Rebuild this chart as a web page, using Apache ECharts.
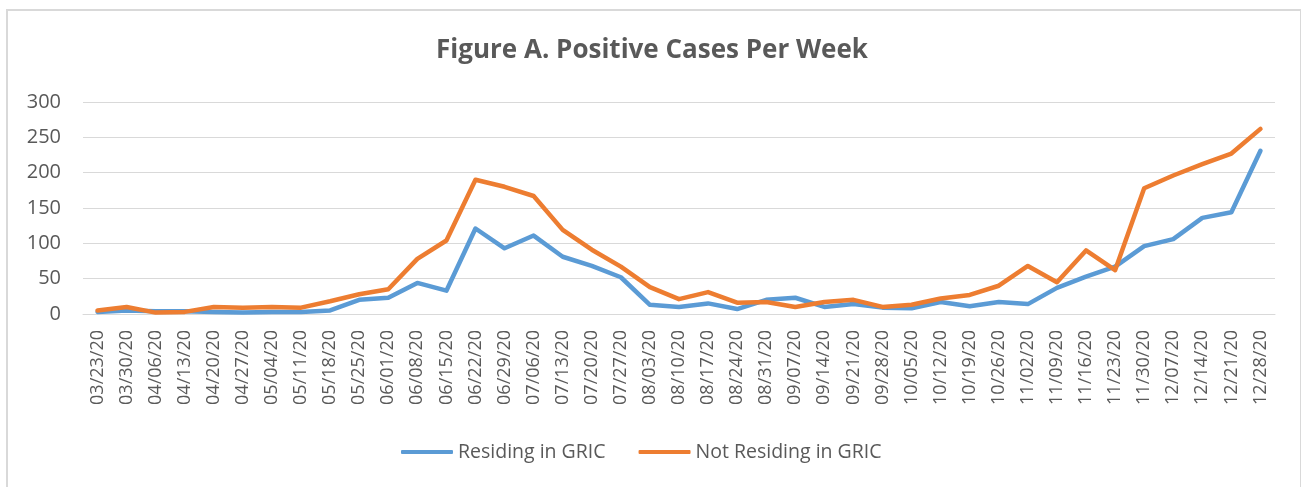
<!DOCTYPE html>
<html>
<head>
<meta charset="utf-8">
<script src="https://cdn.jsdelivr.net/npm/echarts@6/dist/echarts.min.js"></script>
<style>
  html, body { margin: 0; padding: 0; background: #fff; }
  #chart { width: 1304px; height: 487px; }
  #frame { position: absolute; left: 6px; top: 9px; width: 1295px; height: 490px;
           border-left: 2px solid #d9d9d9; border-top: 2px solid #d9d9d9; border-right: 1px solid #d9d9d9;
           pointer-events: none; box-sizing: border-box; }
</style>
</head>
<body>
<div id="chart"></div>
<div id="frame"></div>
<script>
const categories = ["03/23/20","03/30/20","04/06/20","04/13/20","04/20/20","04/27/20","05/04/20","05/11/20","05/18/20","05/25/20",
  "06/01/20","06/08/20","06/15/20","06/22/20","06/29/20","07/06/20","07/13/20","07/20/20","07/27/20","08/03/20",
  "08/10/20","08/17/20","08/24/20","08/31/20","09/07/20","09/14/20","09/21/20","09/28/20","10/05/20","10/12/20",
  "10/19/20","10/26/20","11/02/20","11/09/20","11/16/20","11/23/20","11/30/20","12/07/20","12/14/20","12/21/20","12/28/20"];
const residing = [3,5,4,4,3,2,3,3,5,20,23,44,33,121,93,111,81,68,52,13,10,15,7,20,23,10,14,9,8,17,11,17,14,37,53,67,96,106,136,144,231];
const notResiding = [5,10,2,3,10,9,10,9,18,28,35,78,104,190,180,167,119,91,67,38,21,31,16,17,10,17,20,10,13,22,27,40,68,45,90,62,178,196,212,227,262];
const yTicks = [0,50,100,150,200,250,300];

const chart = echarts.init(document.getElementById('chart'), null, { renderer: 'canvas' });
const txt = '#595959';
chart.setOption({
  animation: false,
  backgroundColor: '#ffffff',
  title: {
    text: 'Figure A. Positive Cases Per Week',
    left: 'center', top: 33,
    textStyle: { fontFamily: 'Open Sans', fontWeight: 'bold', fontSize: 26, color: txt }
  },
  legend: {
    bottom: 20, left: 396,
    itemWidth: 52, itemHeight: 4, itemGap: 33,
    icon: 'roundRect',
    textStyle: { fontFamily: 'Open Sans', fontSize: 19.5, color: txt, padding: [0, 0, 0, 0] },
    data: ['Residing in GRIC', 'Not Residing in GRIC']
  },
  grid: { left: 83, right: 29, top: 102, bottom: 173 },
  xAxis: {
    type: 'category', data: categories, boundaryGap: true,
    axisLine: { lineStyle: { color: '#d9d9d9', width: 1 } },
    axisTick: { show: false },
    axisLabel: { rotate: 90, interval: 0, margin: 16, fontFamily: 'Open Sans', fontSize: 18, color: txt }
  },
  yAxis: {
    type: 'value', min: yTicks[0], max: yTicks[yTicks.length - 1], interval: 50,
    axisLine: { show: false }, axisTick: { show: false },
    axisLabel: { margin: 22, fontFamily: 'Open Sans', fontSize: 20, color: txt },
    splitLine: { lineStyle: { color: '#d9d9d9', width: 1 } }
  },
  series: [
    { name: 'Residing in GRIC', type: 'line', data: residing, symbol: 'none',
      lineStyle: { color: '#5B9BD5', width: 4.5, cap: 'round', join: 'round' }, itemStyle: { color: '#5B9BD5' } },
    { name: 'Not Residing in GRIC', type: 'line', data: notResiding, symbol: 'none',
      lineStyle: { color: '#ED7D31', width: 4.5, cap: 'round', join: 'round' }, itemStyle: { color: '#ED7D31' } }
  ]
});
</script>
</body>
</html>
